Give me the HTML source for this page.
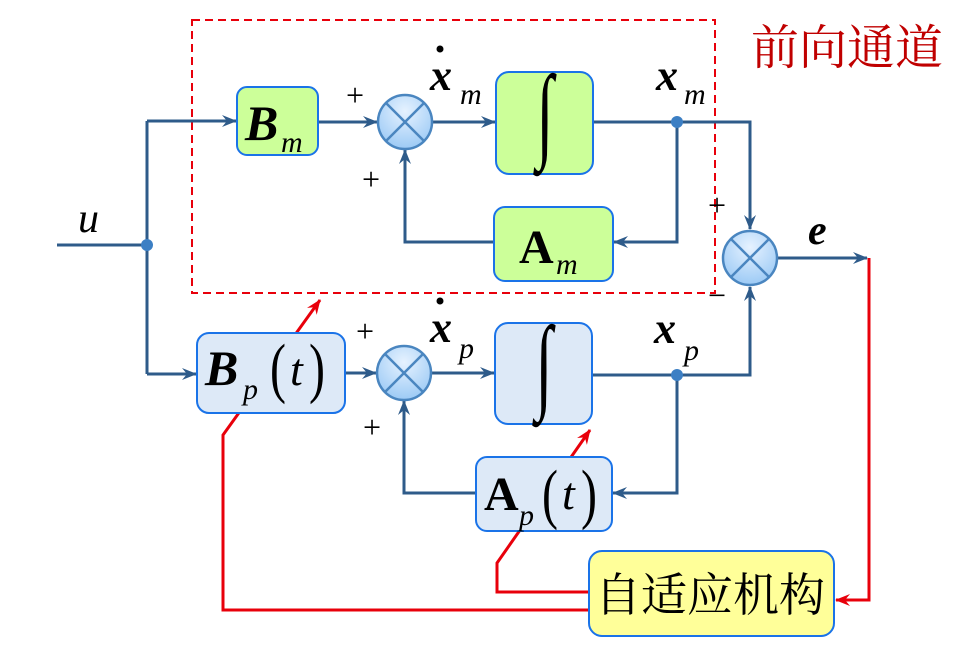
<!DOCTYPE html>
<html><head><meta charset="utf-8"><style>
html,body{margin:0;padding:0;background:#fff;}
svg{display:block}
.t{font-family:"Liberation Serif","Noto Serif CJK SC",serif;}
</style></head><body>
<svg width="961" height="657" viewBox="0 0 961 657" xmlns="http://www.w3.org/2000/svg">
<defs>
<marker id="ab" markerWidth="16" markerHeight="12" refX="14" refY="6" orient="auto" markerUnits="userSpaceOnUse">
<path d="M0,0 L15,6 L0,12 L5,6 Z" fill="#2e5b8a"/></marker>
<marker id="ar" markerWidth="16" markerHeight="12" refX="14" refY="6" orient="auto" markerUnits="userSpaceOnUse">
<path d="M0,0 L15,6 L0,12 L5,6 Z" fill="#e8000b"/></marker>
<radialGradient id="cg" cx="0.5" cy="0.3" r="0.7"><stop offset="0" stop-color="#e6f2ff"/><stop offset="1" stop-color="#9ccaf5"/></radialGradient>
</defs>
<rect x="192" y="20" width="523" height="273" fill="none" stroke="#e8000b" stroke-width="2" stroke-dasharray="8,5"/>
<text x="751" y="64" class="t" font-size="48" fill="#c00000">前向通道</text>

<g stroke="#2e5b8a" stroke-width="3" fill="none">
<line x1="57" y1="245" x2="147" y2="245"/>
<line x1="147" y1="121" x2="147" y2="374"/>
<line x1="147" y1="121" x2="236" y2="121" marker-end="url(#ab)"/>
<line x1="147" y1="374" x2="196" y2="374" marker-end="url(#ab)"/>
<line x1="318" y1="122" x2="377" y2="122" marker-end="url(#ab)"/>
<line x1="432" y1="122" x2="495" y2="122" marker-end="url(#ab)"/>
<polyline points="593,122 750,122 750,229" marker-end="url(#ab)"/>
<polyline points="677,122 677,242 614,242" marker-end="url(#ab)"/>
<polyline points="494,242 405,242 405,150" marker-end="url(#ab)"/>
<line x1="345" y1="373" x2="376" y2="373" marker-end="url(#ab)"/>
<line x1="431" y1="373" x2="494" y2="373" marker-end="url(#ab)"/>
<polyline points="592,375 750,375 750,287" marker-end="url(#ab)"/>
<polyline points="677,375 677,493 613,493" marker-end="url(#ab)"/>
<polyline points="476,493 404,493 404,401" marker-end="url(#ab)"/>
<line x1="778" y1="258" x2="867" y2="258" marker-end="url(#ab)"/>
</g>
<circle cx="147" cy="245" r="6" fill="#3c7fc4"/>
<circle cx="677" cy="122" r="6" fill="#3c7fc4"/>
<circle cx="677" cy="375" r="6" fill="#3c7fc4"/>

<g stroke="#e8000b" stroke-width="3" fill="none">
<polyline points="869,258 869,600 836,600" marker-end="url(#ar)"/>
<polyline points="588,610 223,610 223,435 320,300" marker-end="url(#ar)"/>
<polyline points="588,592 497,592 497,563 590,430" marker-end="url(#ar)"/>
</g>

<rect x="237" y="87" width="81" height="68" rx="10" fill="#ccff99" stroke="#1a73e8" stroke-width="2"/>
<rect x="496" y="72" width="97" height="102" rx="13" fill="#ccff99" stroke="#1a73e8" stroke-width="2"/>
<rect x="494" y="207" width="119" height="74" rx="11" fill="#ccff99" stroke="#1a73e8" stroke-width="2"/>
<rect x="197" y="333" width="148" height="80" rx="12" fill="#dde9f7" stroke="#1a73e8" stroke-width="2"/>
<rect x="495" y="323" width="97" height="101" rx="13" fill="#dde9f7" stroke="#1a73e8" stroke-width="2"/>
<rect x="476" y="457" width="136" height="74" rx="11" fill="#dde9f7" stroke="#1a73e8" stroke-width="2"/>
<rect x="589" y="551" width="245" height="85" rx="13" fill="#ffff99" stroke="#1a73e8" stroke-width="2"/>

<g stroke="#4a86c0" stroke-width="2.5">
<circle cx="405" cy="122" r="27" fill="url(#cg)"/>
<path d="M386,103 L424,141 M424,103 L386,141"/>
<circle cx="404" cy="373" r="27" fill="url(#cg)"/>
<path d="M385,354 L423,392 M423,354 L385,392"/>
<circle cx="750" cy="258" r="27" fill="url(#cg)"/>
<path d="M731,239 L769,277 M769,239 L731,277"/>
</g>

<g class="t" fill="#000">
<text x="245" y="140" font-size="50" font-weight="bold" font-style="italic">B</text>
<text x="281" y="152" font-size="30" font-style="italic">m</text>
<text transform="translate(545,148) scale(1,1.7)" text-anchor="middle" font-size="62">∫</text>
<text transform="translate(544,399) scale(1,1.7)" text-anchor="middle" font-size="62">∫</text>
<text x="519" y="263" font-size="48" font-weight="bold">A</text>
<text x="556" y="274" font-size="30" font-style="italic">m</text>
<text x="205" y="385" font-size="50" font-weight="bold" font-style="italic">B</text>
<text x="243" y="399" font-size="30" font-style="italic">p</text>
<text transform="translate(270,390) scale(1,1.4)" font-size="48">(</text>
<text x="290" y="385" font-size="46" font-style="italic">t</text>
<text transform="translate(309,390) scale(1,1.4)" font-size="48">)</text>
<text x="484" y="510" font-size="48" font-weight="bold">A</text>
<text x="519" y="525" font-size="30" font-style="italic">p</text>
<text transform="translate(542,516) scale(1,1.4)" font-size="48">(</text>
<text x="562" y="509" font-size="46" font-style="italic">t</text>
<text transform="translate(581,516) scale(1,1.4)" font-size="48">)</text>
<text x="595" y="611" font-size="46">自适应机构</text>
<text x="78" y="232" font-size="42" font-style="italic">u</text>
<text x="808" y="244" font-size="42" font-weight="bold" font-style="italic">e</text>
<text x="430" y="90" font-size="44" font-weight="bold" font-style="italic">x</text>
<text x="460" y="104" font-size="30" font-style="italic">m</text>
<text x="430" y="342" font-size="44" font-weight="bold" font-style="italic">x</text>
<text x="459" y="358" font-size="30" font-style="italic">p</text>
<text x="656" y="90" font-size="44" font-weight="bold" font-style="italic">x</text>
<text x="684" y="104" font-size="30" font-style="italic">m</text>
<text x="654" y="343" font-size="44" font-weight="bold" font-style="italic">x</text>
<text x="684" y="360" font-size="30" font-style="italic">p</text>
<text x="346" y="106" font-size="32">+</text>
<text x="362" y="190" font-size="32">+</text>
<text x="356" y="342" font-size="32">+</text>
<text x="363" y="438" font-size="32">+</text>
<text x="708" y="216" font-size="32">+</text>
<text x="708" y="306" font-size="32">−</text>
</g>
<circle cx="440" cy="49" r="3.5" fill="#000"/>
<circle cx="440" cy="301" r="3.5" fill="#000"/>
</svg>
</body></html>
